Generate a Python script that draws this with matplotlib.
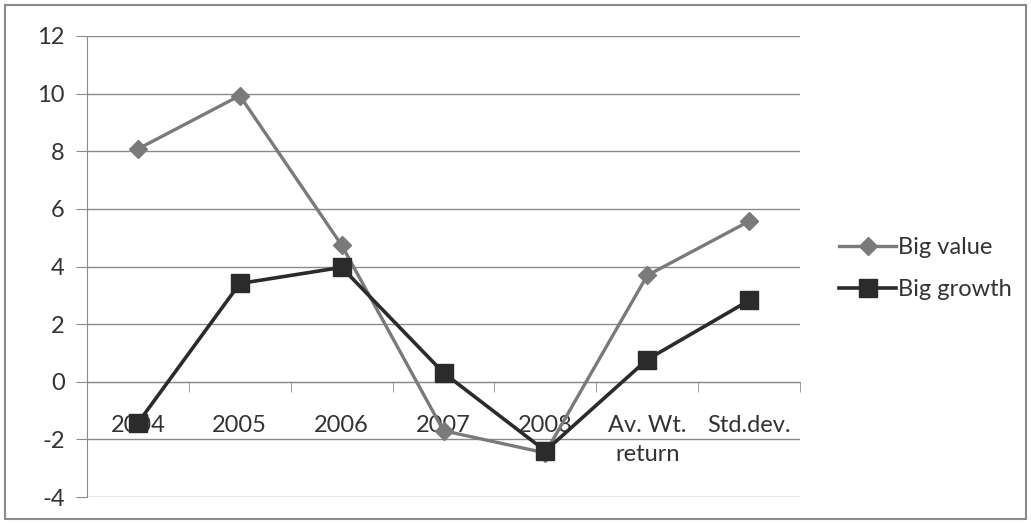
import matplotlib
matplotlib.use("Agg")
import matplotlib.pyplot as plt
from matplotlib.patches import Rectangle
from matplotlib.ticker import FixedLocator, NullFormatter

categories = ["2004", "2005", "2006", "2007", "2008", "Av. Wt.\nreturn", "Std.dev."]
big_value = [8.08, 9.93, 4.74, -1.70, -2.47, 3.69, 5.57]
big_growth = [-1.43, 3.41, 3.97, 0.31, -2.40, 0.77, 2.82]
y_ticks = [-4, -2, 0, 2, 4, 6, 8, 10, 12]

plt.rcParams['font.family'] = ['Lato', 'DejaVu Sans']
plt.rcParams['axes.unicode_minus'] = False

fig = plt.figure(figsize=(10.31, 5.24), dpi=100)
ax = fig.add_axes([87/1031, 1 - 497/524, (800-87)/1031, (497-36)/524])

x = list(range(len(categories)))
ax.plot(x, big_value, color="#7a7a7a", lw=2.4, marker="D", ms=9,
        markerfacecolor="#7a7a7a", markeredgecolor="#7a7a7a", label="Big value", zorder=3)
ax.plot(x, big_growth, color="#2b2b2b", lw=2.6, marker="s", ms=13,
        markerfacecolor="#2b2b2b", markeredgecolor="#2b2b2b", label="Big growth", zorder=4)

ax.set_xlim(-0.5, len(categories) - 0.5)
ax.set_ylim(-4, 12)
ax.set_yticks(y_ticks)
ax.yaxis.grid(True, color="#8a8a8a", lw=1.0)
ax.set_axisbelow(True)
ax.tick_params(axis='y', length=8, color="#8a8a8a", labelsize=17, labelcolor="#333333", pad=8)

for s in ["top", "right"]:
    ax.spines[s].set_visible(False)
ax.spines["left"].set_color("#8a8a8a")
ax.spines["bottom"].set_position(("data", 0))
ax.spines["bottom"].set_color("#8a8a8a")

ax.set_xticks(x)
ax.set_xticklabels(categories, fontsize=17, color="#333333", linespacing=1.45)
ax.tick_params(axis='x', which='major', length=0, pad=24)
ax.xaxis.set_minor_locator(FixedLocator([i + 0.5 for i in range(len(categories))]))
ax.xaxis.set_minor_formatter(NullFormatter())
ax.tick_params(axis='x', which='minor', length=7, color="#8a8a8a", direction='out')

leg = fig.legend(loc="upper left", bbox_to_anchor=(818/1031, 1 - 216/524), frameon=False,
                 fontsize=17, labelspacing=0.9, handlelength=2.4, handletextpad=0.1,
                 labelcolor="#333333")

fig.patches.append(Rectangle((5/1031, 5/524), 1 - 10/1031, 1 - 10/524, transform=fig.transFigure,
                             fill=False, edgecolor="#8a8a8a", lw=1.5))

fig.savefig("out.png", dpi=100)
